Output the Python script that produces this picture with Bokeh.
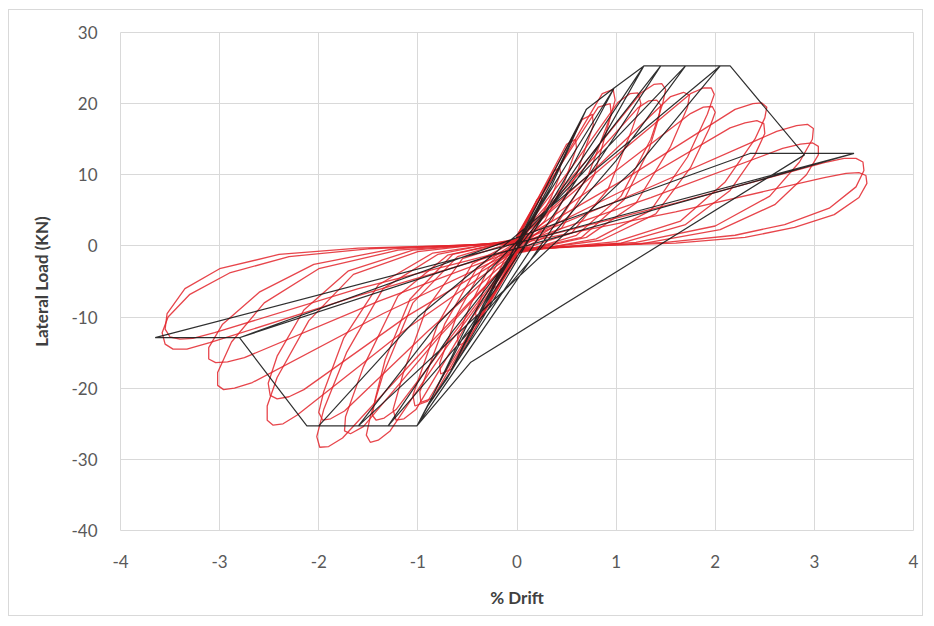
from bokeh.plotting import figure
from bokeh.embed import file_html
from bokeh.resources import INLINE
from bokeh.models import FixedTicker, Range1d

# ---------------- data ----------------
x_ticks = [-4, -3, -2, -1, 0, 1, 2, 3, 4]
y_ticks = [-40, -30, -20, -10, 0, 10, 20, 30]

# experimental cycles (red): positive petal then negative petal
c01_x = [0, 0.13, 0.21, 0.25, 0.24, 0.2, 0.1, 0, 0, -0.13, -0.21, -0.25, -0.24, -0.2, -0.1, 0]
c01_y = [-0.3, 2.5, 5.2, 6.6, 7, 6.5, 3.6, 0.6, 0.2, -2, -4.5, -5.7, -6, -5.6, -3.2, -0.5]
c02_x = [0, 0.2, 0.35, 0.44, 0.43, 0.37, 0.2, 0, 0, -0.2, -0.33, -0.42, -0.41, -0.35, -0.18, 0]
c02_y = [-0.3, 3, 7, 10.2, 11, 10.5, 5.8, 1, 0.3, -2.5, -6, -9.3, -10, -9.6, -5.3, -0.8]
c03_x = [0, 0.28, 0.48, 0.6, 0.59, 0.5, 0.28, 0, 0, -0.28, -0.47, -0.6, -0.59, -0.5, -0.27, 0]
c03_y = [-0.4, 3.5, 9, 13.8, 15, 14.3, 8.5, 1.2, 0.4, -3, -8.3, -12.8, -14, -13.4, -7.8, -1.2]
c04_x = [0, 0.35, 0.6, 0.77, 0.76, 0.66, 0.35, 0, 0, -0.35, -0.6, -0.78, -0.77, -0.66, -0.34, 0]
c04_y = [-0.5, 3.5, 10, 17, 18.5, 17.8, 10, 1.5, 0.5, -3.2, -9.5, -16.5, -18, -17.3, -9.6, -1.5]
c05_x = [0, 0.4, 0.72, 0.95, 0.94, 0.82, 0.4, 0, 0, -0.4, -0.73, -0.98, -0.97, -0.85, -0.42, 0]
c05_y = [-0.6, 3, 10, 18.5, 20, 19.5, 10.5, 1.5, 0.6, -3, -11, -20.5, -22, -21.4, -11, -1.5]
c06_x = [0, 0.45, 0.78, 0.99, 0.97, 0.86, 0.42, 0, 0, -0.45, -0.8, -1.05, -1.03, -0.9, -0.45, 0]
c06_y = [-0.8, 2.5, 10, 20.5, 22, 21.4, 11, 1.2, 0.8, -2.5, -11, -21, -22.5, -21.8, -11.5, -1.2]
c17_x = [0, 0.55, 0.92, 1.15, 1.25, 1.22, 1.14, 1.02, 0.55, 0,
         0, -0.55, -0.92, -1.15, -1.25, -1.22, -1.14, -1.02, -0.55, 0]
c17_y = [-0.7, 1.8, 8, 16, 20, 21.5, 21.4, 20.2, 11, 1,
         0.7, -1.8, -9, -18, -23, -24.5, -24.3, -23, -12, -1]
c07_x = [0, 0.6, 1.05, 1.35, 1.47, 1.5, 1.46, 1.38, 1.25, 0.7, 0,
         0, -0.6, -1.05, -1.35, -1.48, -1.52, -1.48, -1.4, -1.28, -0.7, 0]
c07_y = [-1, 1.5, 7, 15, 20, 22, 22.8, 22.7, 21.5, 12, 1,
         1, -1.5, -8, -18, -24, -26.6, -27.6, -27.3, -26, -14, -1]
c08_x = [0, 0.65, 1.08, 1.33, 1.43, 1.45, 1.41, 1.33, 1.22, 0.65, 0,
         0, -0.65, -1.08, -1.33, -1.43, -1.46, -1.42, -1.34, -1.22, -0.65, 0]
c08_y = [-0.8, 1.2, 6.5, 13.5, 18, 19.8, 20.5, 20.4, 19.4, 10.5, 0.8,
         0.8, -1.2, -7.5, -16, -21.5, -23.8, -24.5, -24.2, -23, -12.5, -0.8]
c18_x = [0, 0.7, 1.2, 1.55, 1.72, 1.74, 1.68, 1.55, 0.8, 0,
         0, -0.7, -1.2, -1.55, -1.73, -1.74, -1.68, -1.55, -0.8, 0]
c18_y = [-0.9, 1.2, 6, 14, 19.5, 21.2, 21.6, 21, 11, 0.8,
         0.9, -1.3, -7, -17, -24, -26, -26.4, -25.4, -13, -0.9]
c09_x = [0, 0.8, 1.35, 1.72, 1.92, 1.99, 1.96, 1.88, 1.75, 0.9, 0,
         0, -0.8, -1.35, -1.72, -1.95, -2.02, -1.99, -1.9, -1.76, -0.9, 0]
c09_y = [-1, 1, 5, 12.5, 18.5, 21.3, 22.2, 22.2, 21.4, 11.5, 0.8,
         1, -1.2, -6, -15, -23, -26.8, -28.3, -28.2, -27, -14, -1]
c10_x = [0, 0.85, 1.4, 1.75, 1.94, 2.0, 1.97, 1.88, 1.75, 0.9, 0,
         0, -0.85, -1.4, -1.75, -1.95, -2.0, -1.96, -1.88, -1.74, -0.9, 0]
c10_y = [-0.8, 0.8, 4.5, 11, 16.5, 18.8, 19.6, 19.5, 18.6, 9.5, 0.6,
         0.8, -1, -5.5, -13, -20.5, -23.4, -24.5, -24.3, -23.2, -12, -0.8]
c11_x = [0, 1.0, 1.65, 2.1, 2.4, 2.5, 2.52, 2.47, 2.38, 2.2, 1.1, 0,
         0, -1.0, -1.65, -2.1, -2.42, -2.52, -2.52, -2.46, -2.36, -2.22, -1.1, 0]
c11_y = [-0.8, 0.6, 3.5, 9, 15, 18, 19.5, 20.1, 20, 19.2, 9.5, 0.6,
         0.8, -0.8, -4, -10.5, -18.5, -22.5, -24.5, -25.2, -25, -23.8, -11.5, -0.8]
c12_x = [0, 1.05, 1.7, 2.15, 2.4, 2.5, 2.49, 2.42, 2.3, 2.15, 1.1, 0,
         0, -1.05, -1.7, -2.15, -2.42, -2.51, -2.49, -2.42, -2.3, -2.15, -1.1, 0]
c12_y = [-0.6, 0.4, 3, 7.8, 12.8, 15.8, 17.2, 17.6, 17.3, 16.6, 8, 0.4,
         0.6, -0.6, -3.5, -9, -15.5, -19.3, -21, -21.5, -21.2, -20.2, -9.8, -0.6]
c13_x = [0, 1.2, 2.0, 2.55, 2.85, 2.98, 2.99, 2.93, 2.82, 2.62, 1.3, 0,
         0, -1.2, -2.0, -2.55, -2.88, -3.02, -3.02, -2.96, -2.85, -2.67, -1.35, 0]
c13_y = [-0.6, 0.5, 2.8, 7, 11.8, 15, 16.5, 17.1, 16.9, 16.1, 8, 0.5,
         0.6, -0.6, -3.2, -8, -13.5, -17.8, -19.6, -20.2, -20, -19.2, -9.5, -0.6]
c14_x = [0, 1.25, 2.05, 2.6, 2.92, 3.04, 3.04, 2.98, 2.86, 2.68, 1.35, 0,
         0, -1.25, -2.05, -2.6, -2.97, -3.11, -3.11, -3.04, -2.92, -2.75, -1.4, 0]
c14_y = [-0.5, 0.3, 2.3, 5.8, 10, 12.8, 14, 14.5, 14.3, 13.7, 6.8, 0.3,
         0.5, -0.4, -2.6, -6.5, -11, -14.3, -15.9, -16.4, -16.3, -15.7, -7.8, -0.5]
c15_x = [0, 1.5, 2.2, 2.7, 3.15, 3.42, 3.5, 3.49, 3.42, 3.3, 3.1, 1.6, 0,
         0, -1.5, -2.3, -2.9, -3.3, -3.52, -3.58, -3.55, -3.47, -3.33, -3.1, -1.6, 0]
c15_y = [-0.4, 0.5, 1.5, 3, 5.3, 8.3, 10.6, 11.8, 12.3, 12.3, 11.7, 6, 0.4,
         0.4, -0.4, -1.5, -3.8, -6.8, -10, -12.2, -13.8, -14.5, -14.5, -13.6, -7, -0.4]
c16_x = [0, 1.6, 2.3, 2.8, 3.2, 3.45, 3.53, 3.52, 3.45, 3.32, 3.1, 1.6, 0,
         0, -1.6, -2.4, -3.0, -3.35, -3.53, -3.55, -3.5, -3.4, -3.27, -3.05, -1.6, 0]
c16_y = [-0.3, 0.4, 1.2, 2.6, 4.4, 6.8, 8.8, 9.9, 10.3, 10.2, 9.6, 4.8, 0.3,
         0.3, -0.3, -1.2, -3.2, -6, -9.5, -11.7, -12.8, -13.1, -13, -12.2, -6, -0.3]

# analytical model (black)
model_x = [0, 0.35, 0.12, -0.35, -0.12,
           0.35, 0.7, 0.35, -0.35, -0.7, -0.35,
           0.7, 0.98, 0.55, -0.7, -0.9, -0.5,
           0.98, 1.28, 0.8, -0.9, -1.01, -0.55,
           1.28, 1.45, 0.85, -1.01, -1.3, -0.65,
           1.45, 1.7, 1.0, -1.3, -1.6, -0.8,
           1.7, 2.05, 1.2, -1.6, -2.0, -1.0,
           2.05, 2.15, 2.9, -0.47, -1.01, -2.12, -2.8,
           2.35, 3.4, -0.3, -2.8, -3.65, 0.3, 3.4]
model_y = [0, 8.5, 2.5, -8.5, -2.5,
           8.5, 19.2, 9, -8.5, -18.5, -9,
           19.2, 22.2, 11, -18.5, -22.5, -11,
           22.2, 25.3, 13.5, -22.5, -25.3, -13,
           25.3, 25.3, 12.5, -25.3, -25.3, -12,
           25.3, 25.3, 12, -25.3, -25.3, -11,
           25.3, 25.3, 11, -25.3, -25.3, -10,
           25.3, 25.3, 12.8, -16.4, -25.3, -25.3, -12.9,
           13, 13, -1.5, -12.9, -12.9, 1.5, 13]

red_xs = [c01_x, c02_x, c03_x, c04_x, c05_x, c06_x, c17_x, c07_x, c08_x, c18_x,
          c09_x, c10_x, c11_x, c12_x, c13_x, c14_x, c15_x, c16_x]
red_ys = [c01_y, c02_y, c03_y, c04_y, c05_y, c06_y, c17_y, c07_y, c08_y, c18_y,
          c09_y, c10_y, c11_y, c12_y, c13_y, c14_y, c15_y, c16_y]

# ---------------- figure ----------------
p = figure(width=915, height=607, output_backend="svg", toolbar_location=None,
           x_range=Range1d(-4, 4), y_range=Range1d(-40, 30),
           min_border_left=111, min_border_right=11, min_border_top=22,
           min_border_bottom=87, background_fill_color="white",
           border_fill_color="white",
           styles={"border": "1px solid #d9d9d9", "margin-left": "8px",
                   "margin-top": "9px"})

p.outline_line_color = "#d9d9d9"
p.xaxis.ticker = FixedTicker(ticks=x_ticks)
p.yaxis.ticker = FixedTicker(ticks=y_ticks)
p.xaxis.major_label_overrides = {t: str(t) for t in x_ticks}
p.yaxis.major_label_overrides = {t: str(t) for t in y_ticks}
for g in (p.xgrid, p.ygrid):
    g.grid_line_color = "#d9d9d9"
    g.grid_line_width = 1

for ax in (p.xaxis, p.yaxis):
    ax.axis_line_color = None
    ax.major_tick_line_color = None
    ax.minor_tick_line_color = None
    ax.major_tick_out = 0
    ax.major_tick_in = 0
    ax.minor_tick_out = 0
    ax.major_label_text_font = "Lato"
    ax.major_label_text_font_size = "17px"
    ax.major_label_text_color = "#595959"
    ax.axis_label_text_font = "Lato"
    ax.axis_label_text_font_size = "17px"
    ax.axis_label_text_font_style = "bold"
    ax.axis_label_text_color = "#404040"

p.xaxis.axis_label = "% Drift"
p.yaxis.axis_label = "Lateral Load (KN)"
p.xaxis.major_label_standoff = 24
p.yaxis.major_label_standoff = 23
p.xaxis.axis_label_standoff = 16
p.yaxis.axis_label_standoff = 16

p.multi_line(red_xs, red_ys, line_color="#e3242b", line_width=1.3, line_alpha=0.85)
p.line(model_x, model_y, line_color="#1a1a1a", line_width=1.2, line_alpha=0.9)

open("out.html", "w").write(file_html(p, INLINE))
